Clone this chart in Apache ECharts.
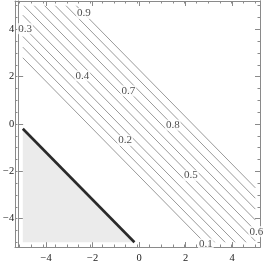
<!DOCTYPE html>
<html><head><meta charset="utf-8">
<script src="https://cdn.jsdelivr.net/npm/echarts@6/dist/echarts.min.js"></script>
<style>html,body{margin:0;padding:0;background:#fff}#c{width:265px;height:269px}</style>
</head><body><div id="c"></div>
<script>
// contour lines x + y = c; label text for each line ('' = unlabeled)
const intercepts = [-2.2, -1.75, -1.3, -0.87, -0.4, 0.05, 0.49, 0.94, 1.4, 1.86, 2.3];
const lineLabels = ['0.1', '', '0.2', '0.3', '0.4', '0.5', '0.6', '0.7', '0.8', '', '0.9'];
const labelX = [2.87, null, -0.6, -4.9, -2.44, 2.23, 5.04, -0.46, 1.45, null, -2.37];
const boundaryIntercept = [-5.2];
const domain = [-5, 5];
const majorTicks = [-4, -2, 0, 2, 4];
const minorTicks = [-5, -4.5, -4, -3.5, -3, -2.5, -2, -1.5, -1, -0.5, 0, 0.5, 1, 1.5, 2, 2.5, 3, 3.5, 4, 4.5, 5];

const FONT = '"Liberation Serif", serif';
const frameColor = '#8a8a8a';
const lo = domain[0], hi = domain[1];

function segment(c) {
  const x0 = Math.max(lo, c - hi), x1 = Math.min(hi, c - lo);
  return [[x0, c - x0], [x1, c - x1]];
}
function fmt(v) { return v < 0 ? '\u2212' + Math.abs(v) : String(v); }

function axis(kind, pos, grid, ticks, len, showLabel) {
  return {
    type: 'value', gridIndex: grid, position: pos, min: -5.2, max: 5.2,
    axisLine: { show: true, onZero: false, lineStyle: { color: frameColor, width: 1 } },
    axisTick: { show: true, inside: true, length: len, customValues: ticks, lineStyle: { color: frameColor, width: 1 } },
    axisLabel: { show: showLabel, customValues: majorTicks, formatter: fmt, fontFamily: FONT, fontSize: 10.5, color: '#222',
      margin: kind === 'x' ? 6 : 4 },
    splitLine: { show: false }
  };
}

const grids = [0, 1].map(() => ({ left: 15, right: 5, top: 1, bottom: 22 }));
const xAxes = [axis('x', 'bottom', 0, majorTicks, 5, true), axis('x', 'top', 0, majorTicks, 5, false),
               axis('x', 'bottom', 1, minorTicks, 2.5, false), axis('x', 'top', 1, minorTicks, 2.5, false)];
const yAxes = [axis('y', 'left', 0, majorTicks, 5, true), axis('y', 'right', 0, majorTicks, 5, false),
               axis('y', 'left', 1, minorTicks, 2.5, false), axis('y', 'right', 1, minorTicks, 2.5, false)];

const series = [];
series.push({
  type: 'custom', xAxisIndex: 0, yAxisIndex: 0, silent: true, z: 1,
  data: boundaryIntercept.map(c => [c]),
  renderItem: function (params, api) {
    const c = api.value(0);
    const pts = [[lo, lo], [lo, c - lo], [c - lo, lo]].map(p => api.coord(p));
    return { type: 'polygon', shape: { points: pts }, style: { fill: '#ebebeb' } };
  }
});
series.push({
  type: 'line', xAxisIndex: 0, yAxisIndex: 0, silent: true, z: 3, symbol: 'none',
  data: segment(boundaryIntercept[0]),
  lineStyle: { color: '#2a2a2a', width: 2.6 }
});
intercepts.forEach((c) => {
  series.push({
    type: 'line', xAxisIndex: 0, yAxisIndex: 0, silent: true, z: 2, symbol: 'none',
    data: segment(c), lineStyle: { color: '#9a9a9a', width: 1 }
  });
});
const labelData = [];
intercepts.forEach((c, i) => {
  if (lineLabels[i]) labelData.push({ value: [labelX[i], c - labelX[i]], name: lineLabels[i] });
});
series.push({
  type: 'scatter', xAxisIndex: 0, yAxisIndex: 0, silent: true, z: 5, symbol: 'circle', symbolSize: 2,
  itemStyle: { color: 'rgba(255,255,255,0)' }, clip: false,
  data: labelData,
  label: { show: true, position: 'inside', formatter: p => p.name, fontFamily: FONT, fontSize: 11, color: '#222',
    backgroundColor: '#fff', padding: [0, 1] }
});

const chart = echarts.init(document.getElementById('c'), null, { renderer: 'canvas' });
chart.setOption({
  animation: false, backgroundColor: '#fff',
  grid: grids, xAxis: xAxes, yAxis: yAxes, series: series
});
</script></body></html>
